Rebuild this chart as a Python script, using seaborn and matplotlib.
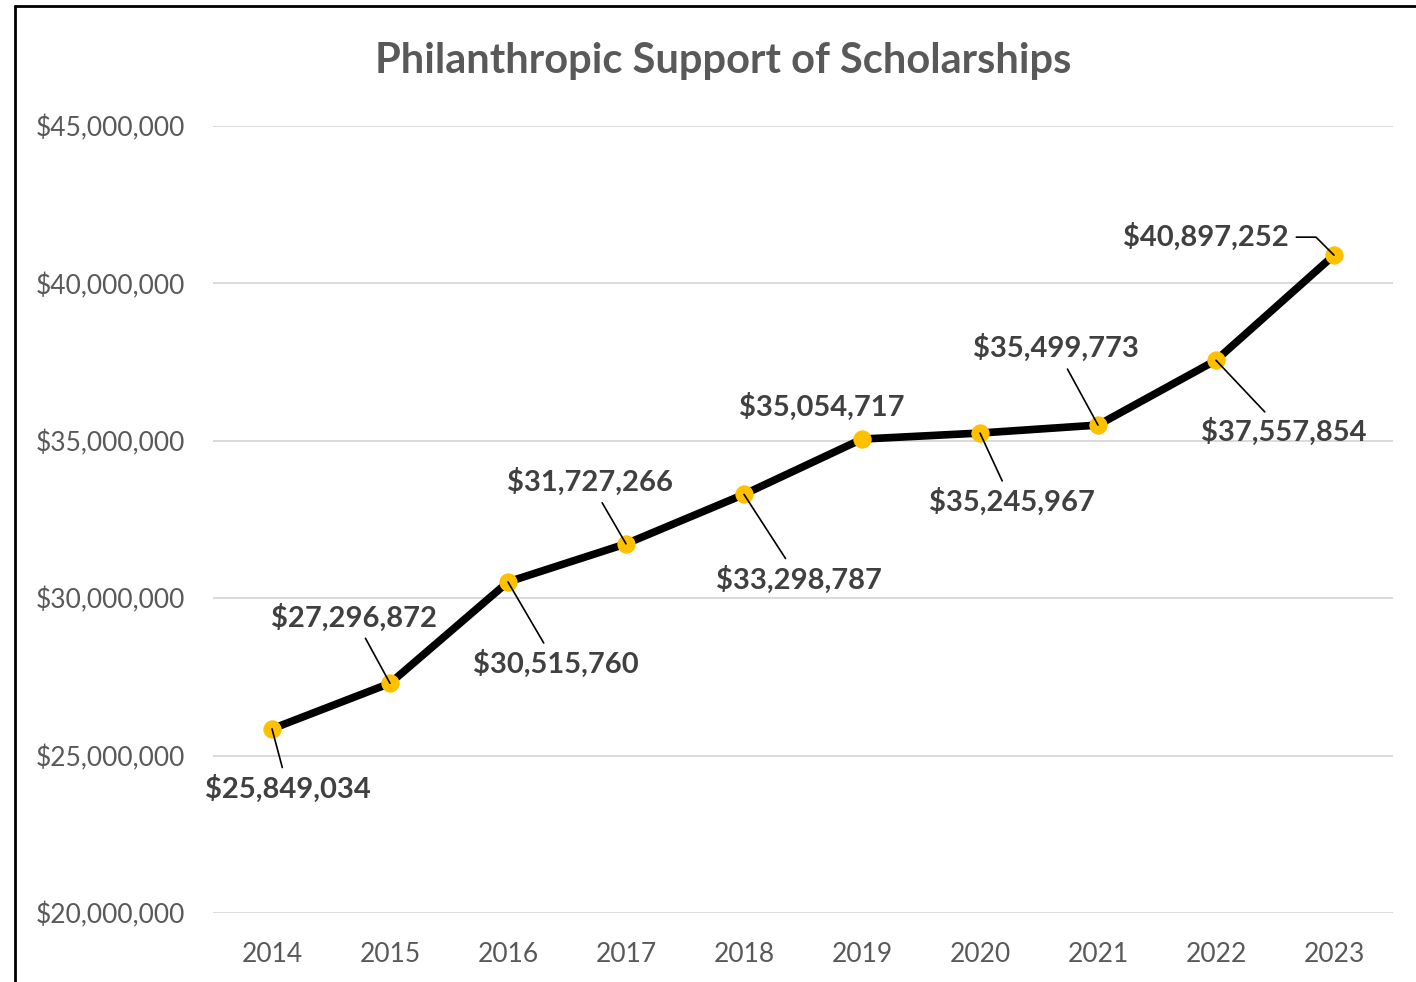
import numpy as np
import pandas as pd
import matplotlib
matplotlib.use("Agg")
import matplotlib.pyplot as plt
from matplotlib.lines import Line2D
from matplotlib.ticker import FuncFormatter
import seaborn as sns

# data
years = ["2014", "2015", "2016", "2017", "2018", "2019", "2020", "2021", "2022", "2023"]
support = [25849034, 27296872, 30515760, 31727266, 33298787,
           35054717, 35245967, 35499773, 37557854, 40897252]

# label offsets in pixels (dx, dy) from each point, y up
label_dx = [16, -36, 48, -36, 55, -40, 32, -42, 68, -128]
label_dy = [-60, 66, -82, 62, -85, 32, -69, 77, -72, 18]
show_leader = [True, True, True, True, True, False, True, True, True, True]

df = pd.DataFrame({"year": years, "support": support})
df["pos"] = np.arange(len(years))

sns.set_style("white")
plt.rcParams["font.family"] = ["Lato", "DejaVu Sans"]

fig = plt.figure(figsize=(14.16, 9.82), dpi=100)
ax = fig.add_axes([213 / 1416, 1 - 913 / 982, 1180 / 1416, 787 / 982])

ax.yaxis.grid(True, color="#D9D9D9", linewidth=1.4)
ax.set_axisbelow(True)

sns.lineplot(data=df, x="pos", y="support", ax=ax, color="black", linewidth=5.5,
             marker="o", markersize=12, markerfacecolor="#FFC000",
             markeredgecolor="#FFC000", zorder=3)
# markers on top of the line
ax.plot(df["pos"], df["support"], "o", ms=12, color="#FFC000", zorder=4)

ax.set_xlim(-0.5, len(years) - 0.5)
ax.set_ylim(20000000, 45000000)
ax.set_yticks(np.arange(20000000, 45000001, 5000000))
ax.yaxis.set_major_formatter(FuncFormatter(lambda v, p: f"${v:,.0f}"))
ax.set_xticks(df["pos"])
ax.set_xticklabels(years)
ax.set_xlabel("")
ax.set_ylabel("")
ax.tick_params(axis="y", length=0, pad=20, labelsize=19, labelcolor="#595959")
ax.tick_params(axis="x", length=0, pad=21, labelsize=19, labelcolor="#595959")
for s in ax.spines.values():
    s.set_visible(False)

px = 0.72
for i, (x, y) in enumerate(zip(df["pos"], df["support"])):
    arrow = None
    if show_leader[i]:
        cs = "arc3"
        if i == len(years) - 1:
            cs = "angle,angleA=0,angleB=135,rad=0"
        arrow = dict(arrowstyle="-", color="black", lw=1.2, shrinkA=3, shrinkB=0,
                     connectionstyle=cs)
    ax.annotate(f"${y:,.0f}", xy=(x, y), xytext=(label_dx[i] * px, label_dy[i] * px),
                textcoords="offset points", ha="center", va="center",
                fontsize=21, fontweight="bold", color="#404040",
                arrowprops=arrow, zorder=5)

fig.text(723 / 1416, 1 - 61 / 982, "Philanthropic Support of Scholarships",
         ha="center", va="center", fontsize=30, fontweight="bold", color="#595959")

# chart border (left and top edges visible)
fig.add_artist(Line2D([15 / 1416, 15 / 1416], [0, 1 - 6 / 982], color="black", lw=2,
                      transform=fig.transFigure))
fig.add_artist(Line2D([15 / 1416, 1], [1 - 6 / 982, 1 - 6 / 982], color="black", lw=2,
                      transform=fig.transFigure))

fig.savefig("out.png", dpi=100)
